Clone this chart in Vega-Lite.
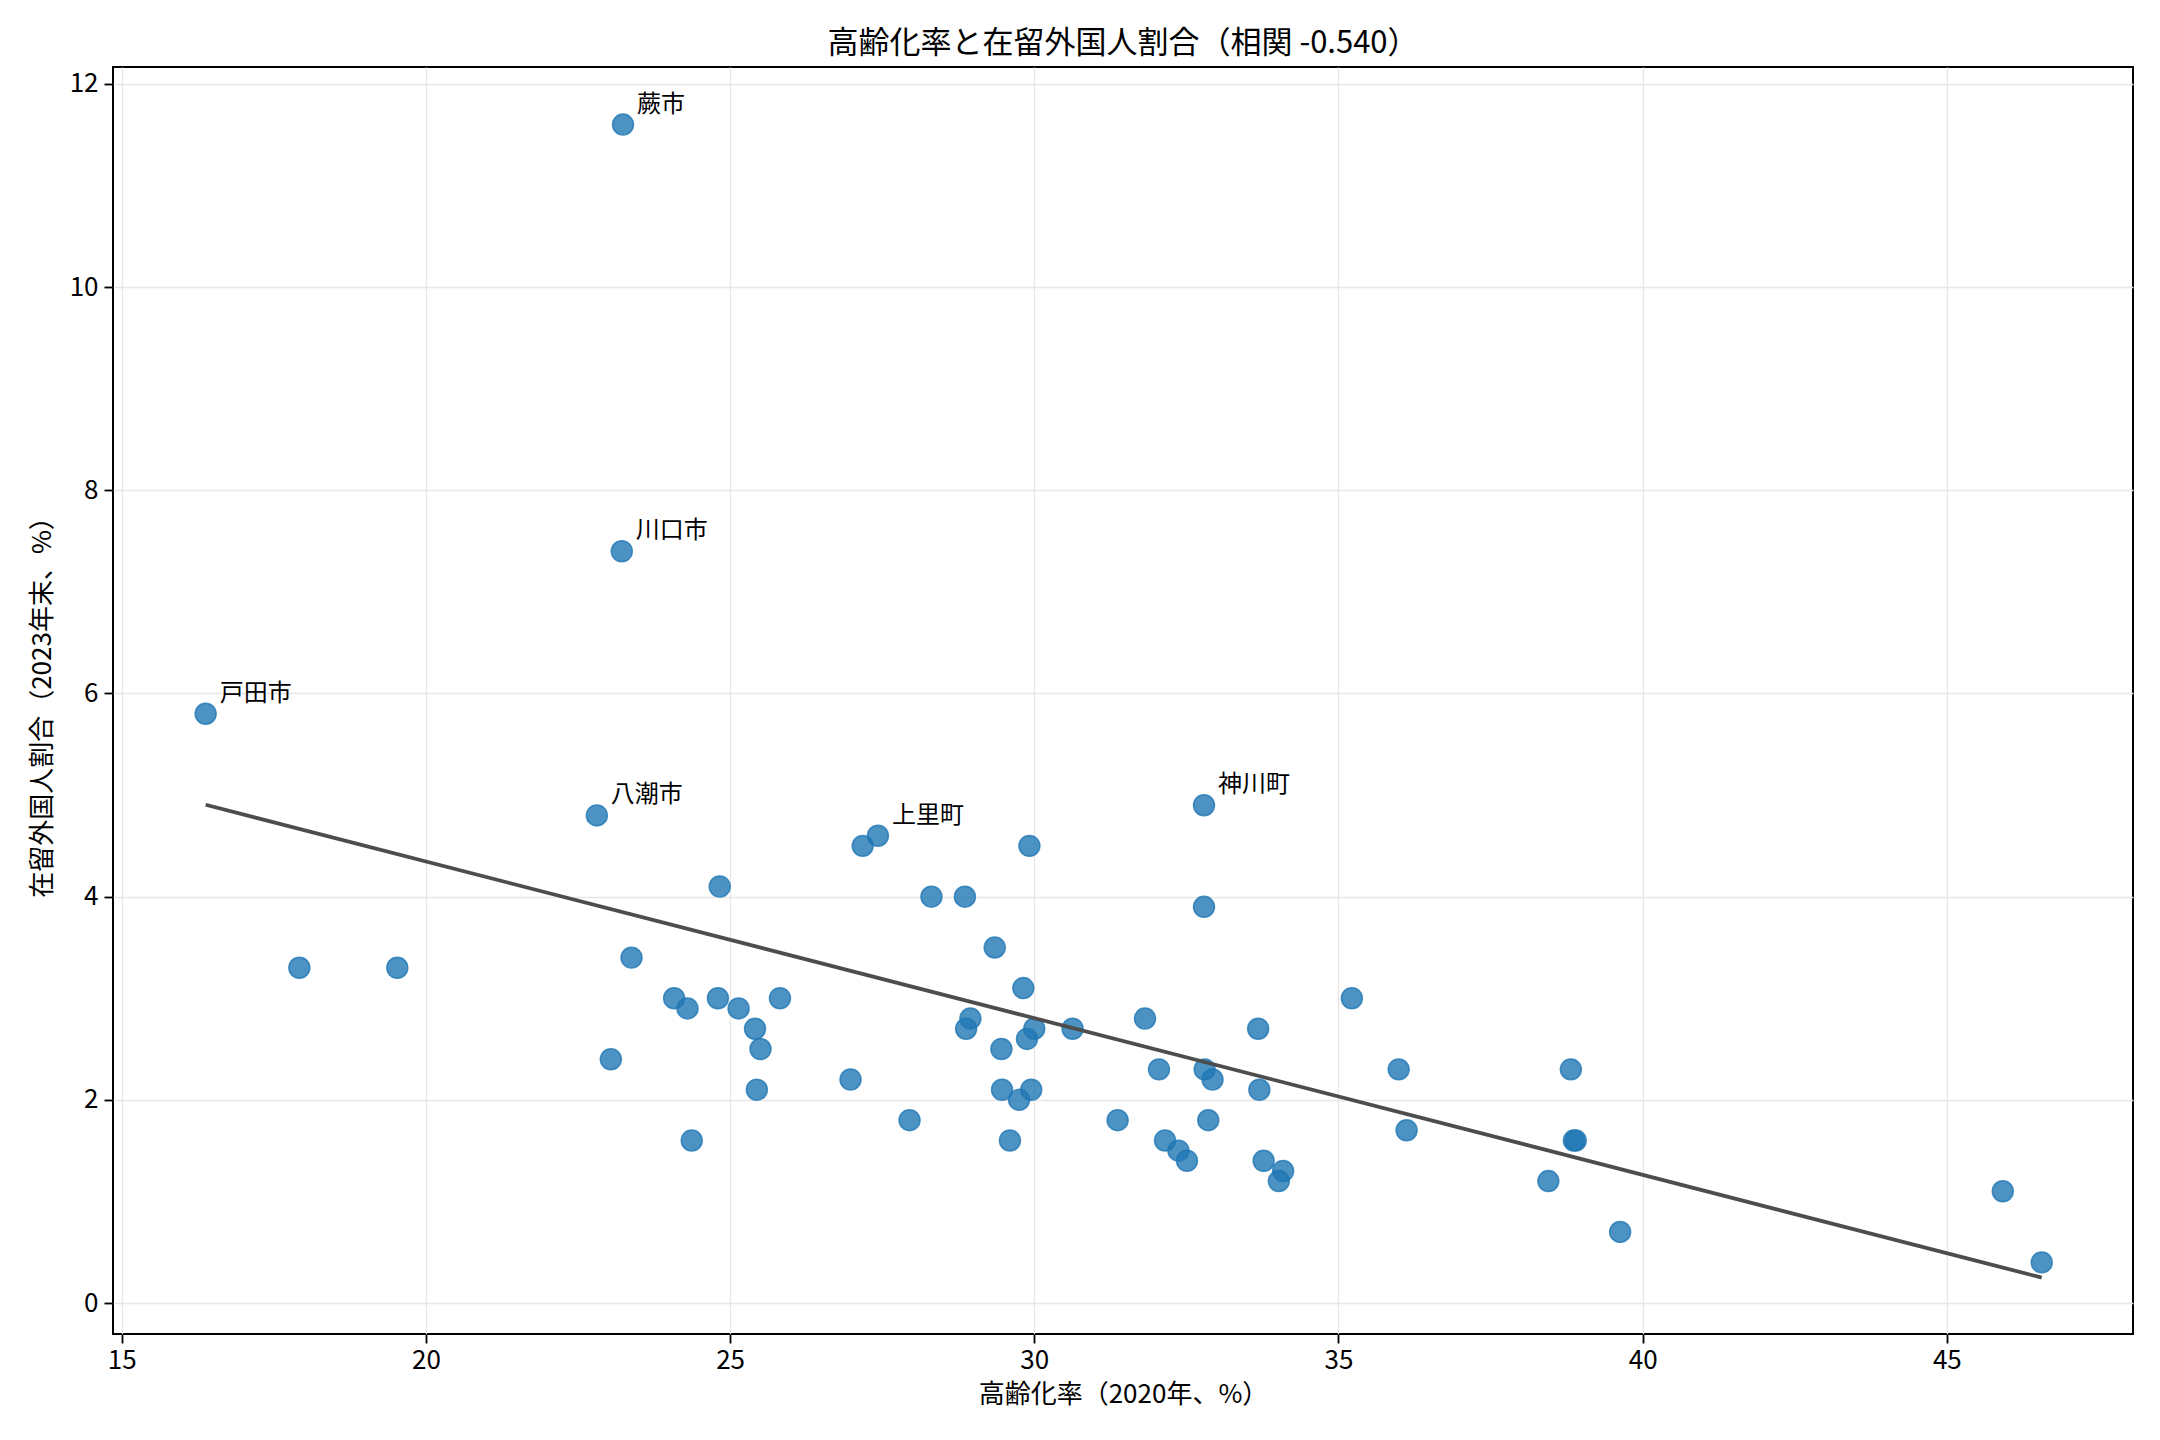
{
  "$schema": "https://vega.github.io/schema/vega-lite/v6.json",
  "width": 2020,
  "height": 1267,
  "autosize": "none",
  "padding": {"left": 113, "top": 67, "right": 27, "bottom": 106},
  "background": "white",
  "config": {
    "font": "Noto Sans CJK JP",
    "view": {"stroke": "black", "strokeWidth": 2},
    "axis": {
      "domain": false,
      "grid": true,
      "gridColor": "#e6e6e6",
      "gridWidth": 1.3,
      "tickColor": "black",
      "tickWidth": 1.8,
      "tickSize": 9,
      "labelColor": "black",
      "labelFont": "Noto Sans CJK JP",
      "labelFontSize": 26,
      "titleFont": "Noto Sans CJK JP",
      "titleFontSize": 26,
      "titleFontWeight": "normal",
      "titleColor": "black"
    }
  },
  "title": {
    "text": "高齢化率と在留外国人割合（相関 -0.540）",
    "font": "Noto Sans CJK JP",
    "fontSize": 31,
    "fontWeight": "normal",
    "color": "black",
    "anchor": "middle",
    "offset": 7
  },
  "datasets": {
    "pts": [
      {"aging": 23.24, "foreign": 11.6, "name": "蕨市"},
      {"aging": 23.22, "foreign": 7.4, "name": "川口市"},
      {"aging": 16.38, "foreign": 5.8, "name": "戸田市"},
      {"aging": 22.81, "foreign": 4.8, "name": "八潮市"},
      {"aging": 27.43, "foreign": 4.6, "name": "上里町"},
      {"aging": 27.18, "foreign": 4.5, "name": ""},
      {"aging": 32.79, "foreign": 4.9, "name": "神川町"},
      {"aging": 29.92, "foreign": 4.5, "name": ""},
      {"aging": 24.83, "foreign": 4.1, "name": ""},
      {"aging": 28.31, "foreign": 4.0, "name": ""},
      {"aging": 28.86, "foreign": 4.0, "name": ""},
      {"aging": 32.79, "foreign": 3.9, "name": ""},
      {"aging": 17.92, "foreign": 3.3, "name": ""},
      {"aging": 19.53, "foreign": 3.3, "name": ""},
      {"aging": 23.38, "foreign": 3.4, "name": ""},
      {"aging": 29.35, "foreign": 3.5, "name": ""},
      {"aging": 29.82, "foreign": 3.1, "name": ""},
      {"aging": 24.08, "foreign": 3.0, "name": ""},
      {"aging": 24.80, "foreign": 3.0, "name": ""},
      {"aging": 25.82, "foreign": 3.0, "name": ""},
      {"aging": 35.22, "foreign": 3.0, "name": ""},
      {"aging": 24.30, "foreign": 2.9, "name": ""},
      {"aging": 25.14, "foreign": 2.9, "name": ""},
      {"aging": 28.95, "foreign": 2.8, "name": ""},
      {"aging": 31.82, "foreign": 2.8, "name": ""},
      {"aging": 25.41, "foreign": 2.7, "name": ""},
      {"aging": 28.88, "foreign": 2.7, "name": ""},
      {"aging": 30.00, "foreign": 2.7, "name": ""},
      {"aging": 30.63, "foreign": 2.7, "name": ""},
      {"aging": 33.68, "foreign": 2.7, "name": ""},
      {"aging": 29.88, "foreign": 2.6, "name": ""},
      {"aging": 25.50, "foreign": 2.5, "name": ""},
      {"aging": 29.46, "foreign": 2.5, "name": ""},
      {"aging": 23.04, "foreign": 2.4, "name": ""},
      {"aging": 32.05, "foreign": 2.3, "name": ""},
      {"aging": 32.80, "foreign": 2.3, "name": ""},
      {"aging": 35.99, "foreign": 2.3, "name": ""},
      {"aging": 38.82, "foreign": 2.3, "name": ""},
      {"aging": 26.98, "foreign": 2.2, "name": ""},
      {"aging": 32.93, "foreign": 2.2, "name": ""},
      {"aging": 25.44, "foreign": 2.1, "name": ""},
      {"aging": 29.47, "foreign": 2.1, "name": ""},
      {"aging": 29.95, "foreign": 2.1, "name": ""},
      {"aging": 33.70, "foreign": 2.1, "name": ""},
      {"aging": 29.75, "foreign": 2.0, "name": ""},
      {"aging": 27.95, "foreign": 1.8, "name": ""},
      {"aging": 31.37, "foreign": 1.8, "name": ""},
      {"aging": 32.86, "foreign": 1.8, "name": ""},
      {"aging": 36.12, "foreign": 1.7, "name": ""},
      {"aging": 24.37, "foreign": 1.6, "name": ""},
      {"aging": 29.60, "foreign": 1.6, "name": ""},
      {"aging": 32.15, "foreign": 1.6, "name": ""},
      {"aging": 38.87, "foreign": 1.6, "name": ""},
      {"aging": 38.90, "foreign": 1.6, "name": ""},
      {"aging": 32.37, "foreign": 1.5, "name": ""},
      {"aging": 32.51, "foreign": 1.4, "name": ""},
      {"aging": 33.77, "foreign": 1.4, "name": ""},
      {"aging": 34.09, "foreign": 1.3, "name": ""},
      {"aging": 34.02, "foreign": 1.2, "name": ""},
      {"aging": 38.45, "foreign": 1.2, "name": ""},
      {"aging": 45.92, "foreign": 1.1, "name": ""},
      {"aging": 39.63, "foreign": 0.7, "name": ""},
      {"aging": 46.56, "foreign": 0.4, "name": ""}
    ],
    "trend": [
      {"aging": 16.38, "foreign": 4.905},
      {"aging": 46.56, "foreign": 0.25}
    ]
  },
  "encoding": {
    "x": {
      "field": "aging",
      "type": "quantitative",
      "title": "高齢化率（2020年、%）",
      "scale": {"domain": [14.857, 48.06], "nice": false, "zero": false},
      "axis": {"values": [15, 20, 25, 30, 35, 40, 45], "labelPadding": 4, "titlePadding": 8}
    },
    "y": {
      "field": "foreign",
      "type": "quantitative",
      "title": "在留外国人割合（2023年末、%）",
      "scale": {"domain": [-0.305, 12.167], "nice": false, "zero": false},
      "axis": {"values": [0, 2, 4, 6, 8, 10, 12], "labelPadding": 6, "titlePadding": 14}
    }
  },
  "layer": [
    {
      "data": {"name": "pts"},
      "mark": {
        "type": "circle",
        "size": 440,
        "fill": "#1f77b4",
        "fillOpacity": 0.8,
        "stroke": "#1f77b4",
        "strokeOpacity": 0.8,
        "strokeWidth": 1.5
      }
    },
    {
      "data": {"name": "trend"},
      "mark": {"type": "line", "color": "#4d4d4d", "strokeWidth": 3.8}
    },
    {
      "data": {"name": "pts"},
      "transform": [{"filter": "datum.name != ''"}],
      "mark": {
        "type": "text",
        "align": "left",
        "baseline": "alphabetic",
        "dx": 14,
        "dy": -13,
        "fontSize": 24,
        "color": "black",
        "font": "Noto Sans CJK JP"
      },
      "encoding": {"text": {"field": "name"}}
    }
  ]
}
